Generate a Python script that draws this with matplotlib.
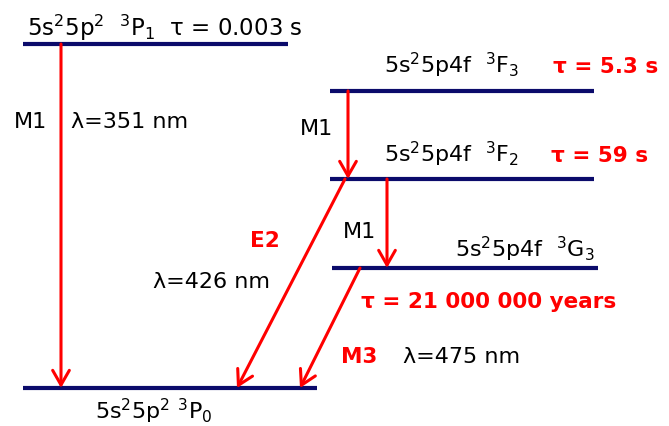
import matplotlib.pyplot as plt

# energy levels: name, y (px from top), x start, x end
level_names = ['3P1', '3F3', '3F2', '3G3', '3P0']
level_y = [45, 92, 180, 269, 389]
level_x0 = [23, 330, 330, 332, 23]
level_x1 = [288, 594, 594, 598, 317]

# transitions: from level, to level, x at upper level, x at lower level
trans_from = ['3P1', '3F3', '3F2', '3F2', '3G3']
trans_to = ['3P0', '3F2', '3P0', '3G3', '3P0']
trans_xa = [61, 348, 345, 387, 360]
trans_xb = [61, 348, 237, 387, 300]

# labels: text, x, baseline y, colour, bold
labels = [
    (r'5s$^2$5p$^2$  $^3$P$_1$  τ = 0.003 s', 27, 36, 'black', False),
    ('M1', 14, 128, 'black', False),
    ('λ=351 nm', 71, 128, 'black', False),
    (r'5s$^2$5p4f  $^3$F$_3$', 384, 73, 'black', False),
    ('τ = 5.3 s', 553, 73, 'red', True),
    ('M1', 300, 135, 'black', False),
    (r'5s$^2$5p4f  $^3$F$_2$', 384, 162, 'black', False),
    ('τ = 59 s', 551, 162, 'red', True),
    ('E2', 250, 247, 'red', True),
    ('M1', 343, 238, 'black', False),
    (r'5s$^2$5p4f  $^3$G$_3$', 455, 257, 'black', False),
    ('λ=426 nm', 153, 288, 'black', False),
    ('τ = 21 000 000 years', 361, 308, 'red', True),
    ('M3', 341, 363, 'red', True),
    ('λ=475 nm', 403, 363, 'black', False),
    (r'5s$^2$5p$^2$ $^3$P$_0$', 95, 419, 'black', False),
]

fig = plt.figure(figsize=(6.69, 4.27), dpi=100)
ax = fig.add_axes([0, 0, 1, 1])
ax.set_xlim(0, 669)
ax.set_ylim(427, 0)
ax.axis('off')

lvl = dict(zip(level_names, level_y))

for y, x0, x1 in zip(level_y, level_x0, level_x1):
    ax.plot([x0, x1], [y, y], color='#0b0b6b', lw=3, solid_capstyle='butt')

for a, b, xa, xb in zip(trans_from, trans_to, trans_xa, trans_xb):
    ax.annotate('', xy=(xb, lvl[b]), xytext=(xa, lvl[a]),
                arrowprops=dict(arrowstyle='->, head_length=0.7, head_width=0.4',
                                color='#ff0000', lw=2.2, shrinkA=0, shrinkB=0,
                                mutation_scale=15))

for i, (txt, x, y, c, bold) in enumerate(labels):
    size = 15.5 if bold else 16
    if i == 0:
        size = 16.5  # top label runs a bit wider in the original
    ax.text(x, y, txt, color=c, ha='left', va='baseline',
            fontsize=size, fontweight='bold' if bold else 'normal')

fig.savefig('out.png', dpi=100)
